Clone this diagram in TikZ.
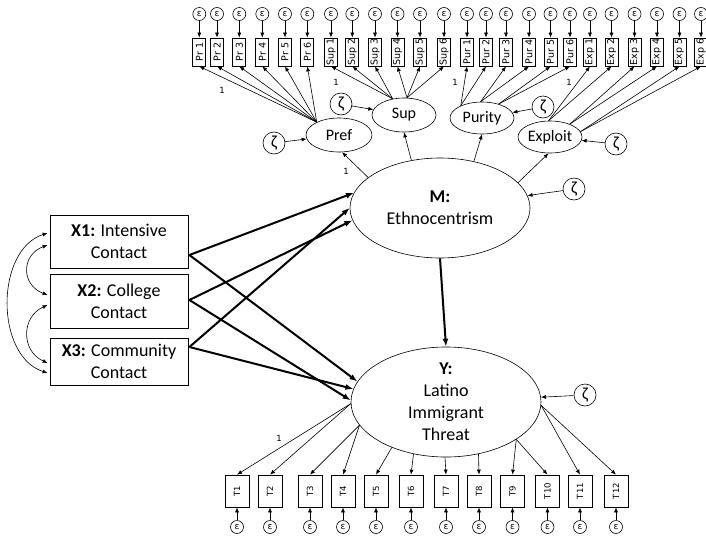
\documentclass[tikz,border=0pt]{standalone}
\usepackage{fontspec}
\usepackage{graphicx}
\setmainfont{Carlito}
\newfontfamily\verd{DejaVu Sans}
\usetikzlibrary{shapes.geometric,arrows.meta,calc}
\begin{document}
\begin{tikzpicture}[x=1pt,y=-1pt,
  every node/.style={inner sep=0pt},
  ind/.style={draw, line width=0.7pt, minimum width=13pt, minimum height=28pt, font=\verd\fontsize{9.5}{9.5}\selectfont},
  tind/.style={draw, line width=0.7pt, minimum width=24pt, minimum height=32pt, font=\verd\fontsize{8.5}{8.5}\selectfont},
  err/.style={draw, circle, line width=0.6pt, minimum size=13pt, font=\verd\fontsize{9}{9}\selectfont},
  dist/.style={draw, circle, line width=0.6pt, minimum size=22pt, font=\fontsize{17}{17}\selectfont},
  fac/.style={draw, ellipse, line width=0.6pt, font=\fontsize{16}{16}\selectfont},
  bigfac/.style={draw, ellipse, line width=0.6pt, align=center, font=\fontsize{18}{22}\selectfont},
  xbox/.style={draw, line width=0.8pt, minimum width=138pt, align=center, font=\fontsize{18}{22}\selectfont},
  load/.style={-{Latex[length=5pt,width=4pt]}, line width=0.6pt},
  regr/.style={-{Latex[length=8pt,width=6pt]}, line width=2pt},
  cov/.style={{Latex[length=5pt,width=4pt]}-{Latex[length=5pt,width=4pt]}, line width=0.6pt},
  one/.style={font=\verd\fontsize{8.5}{8.5}\selectfont}]
\useasboundingbox (0,0) rectangle (706,538);

% exogenous contact variables
\node[xbox, minimum height=53pt] (X1) at (119,241.5) {\textbf{X1:} Intensive\\Contact};
\node[xbox, minimum height=54pt] (X2) at (119,301) {\textbf{X2:} College\\Contact};
\node[xbox, minimum height=47pt] (X3) at (119,361.5) {\textbf{X3:} Community\\Contact};

% latent variables
\node[bigfac, minimum width=180pt, minimum height=100pt] (M) at (440,208) {\textbf{M:}\\Ethnocentrism};
\node[bigfac, minimum width=190pt, minimum height=96pt] (Y) at (446,402) {\textbf{Y:}\\Latino\\Immigrant\\Threat};
\node[fac, minimum width=66pt, minimum height=34pt] (Pref) at (339,135) {Pref};
\node[fac, minimum width=64pt, minimum height=34pt] (Sup) at (404,115) {Sup};
\node[fac, minimum width=64pt, minimum height=32pt] (Purity) at (482,118) {Purity};
\node[fac, minimum width=64pt, minimum height=32pt] (Exploit) at (550,137) {Exploit};

% disturbances
\node[dist] (zPref) at (274,143) {ζ};
\node[dist] (zSup) at (341,104) {ζ};
\node[dist] (zPur) at (543,107) {ζ};
\node[dist] (zExp) at (616,144) {ζ};
\node[dist] (zM) at (574,189) {ζ};
\node[dist] (zY) at (585,395) {ζ};
\draw[load] (zPref) -- (Pref);
\draw[load] (zSup) -- (Sup);
\draw[load] (zPur) -- (Purity);
\draw[load] (zExp) -- (Exploit);
\draw[load] (zM) -- (M);
\draw[load] (zY) -- (Y);

% first-order indicators with their errors
\foreach \x/\lab [count=\i] in {199.3/Pr 1,217/Pr 2,239.3/Pr 3,262.3/Pr 4,285/Pr 5,307.3/Pr 6,
    331/Sup 1,352.3/Sup 2,375/Sup 3,397.5/Sup 4,420/Sup 5,444/Sup 6,
    467/Pur 1,486/Pur 2,506/Pur 3,529/Pur 4,550.5/Pur 5,570/Pur 6,
    590/Exp 1,611.5/Exp 2,634.5/Exp 3,657/Exp 4,679.5/Exp 5,701/Exp 6} {
  \node[ind] (p\i) at (\x,52) {\rotatebox{90}{\lab}};
  \node[err] (e\i) at (\x,14) {ε};
  \draw[load] (e\i) -- (p\i.north);
}
\foreach \i in {1,...,6} \draw[load] (Pref.150) -- (p\i.south);
\foreach \i/\a in {7/125,8/125,9/125,10/80,11/80,12/80} \draw[load] (Sup.\a) -- (p\i.south);
\foreach \i/\a in {13/150,14/150,15/95,16/95,17/40,18/40} \draw[load] (Purity.\a) -- (p\i.south);
\foreach \i/\a in {19/95,20/95,21/33,22/33,23/10,24/10} \draw[load] (Exploit.\a) -- (p\i.south);

% threat indicators with their errors
\foreach \x/\a [count=\i] in {237/181,270/181,310/195.5,343/195.5,376/220,411/238,
    446/269,479/302,512.5/332,547.5/332,580/358,616/358} {
  \node[tind] (t\i) at (\x,491) {\rotatebox{90}{T\i}};
  \node[err] (f\i) at (\x,527) {ε};
  \draw[load] (f\i) -- (t\i.south);
  \draw[load] (Y.\a) -- (t\i.north);
}

% second-order loadings
\draw[load] (M.157) -- (Pref.280);
\draw[load] (M.121) -- (Sup.south);
\draw[load] (M.54) -- (Purity.south);
\draw[load] (M.18) -- (Exploit.265);

% fixed loadings
\node[one] (l1) at (222,90) {1};
\node[one] (l2) at (336,82) {1};
\node[one] (l3) at (455,82) {1};
\node[one] (l4) at (569,82) {1};
\node[one] (l5) at (346,171) {1};
\node[one] (l6) at (279,438) {1};

% structural paths
\coordinate (s1) at ($(X1.east)+(1,13.5)$);
\coordinate (s2) at ($(X2.east)+(1,-1)$);
\coordinate (s3) at ($(X3.east)+(1,-14.5)$);
\draw[regr] (s1) -- (M.170);
\draw[regr] (s2) -- (M.188);
\draw[regr] (s3) -- (M.180);
\draw[regr] (s1) -- (Y.167);
\draw[regr] (s2) -- (Y.179);
\draw[regr] (s3) -- (Y.172);
\draw[regr] (M.south) -- (Y.north);

% covariances among the contact variables
\coordinate (a1) at ($(X1.west)+(-2,-8.5)$);
\coordinate (b1) at ($(X1.west)+(-2,3.5)$);
\coordinate (a2) at ($(X2.west)+(-2,-6)$);
\coordinate (b2) at ($(X2.west)+(-2,4)$);
\coordinate (a3) at ($(X3.west)+(-2,1.5)$);
\coordinate (b3) at ($(X3.west)+(-2,11.5)$);
\draw[cov] (a1) .. controls (-5,250) and (-5,356) .. (b3);
\draw[cov] (b1) .. controls (21,255) and (21,285) .. (a2);
\draw[cov] (b2) .. controls (21,317) and (21,351) .. (a3);
\end{tikzpicture}
\end{document}
